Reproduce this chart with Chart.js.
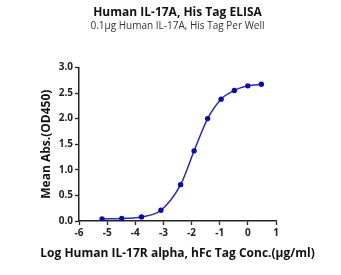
<!DOCTYPE html>
<html>
<head>
<meta charset="utf-8">
<script src="https://cdn.jsdelivr.net/npm/chart.js@4.4.0/dist/chart.umd.min.js"></script>
<style>
  html, body { margin: 0; padding: 0; background: #fff; }
  #wrap { width: 341px; height: 275px; }
</style>
</head>
<body>
<div id="wrap"><canvas id="elisa" width="341" height="275"></canvas></div>
<script>
// log10 conc (ug/ml) vs mean OD450
var logConc = [-5.18, -4.48, -3.78, -3.09, -2.39, -1.91, -1.43, -0.95, -0.48, 0.0, 0.48];
var od450 = [0.04, 0.05, 0.08, 0.21, 0.71, 1.37, 2.00, 2.38, 2.55, 2.64, 2.67];
var xTicks = [-6, -5, -4, -3, -2, -1, 0, 1];
var yTicks = [0.0, 0.5, 1.0, 1.5, 2.0, 2.5, 3.0];
var xTitle = "Log Human IL-17R alpha, hFc Tag Conc.(\u03bcg/ml)";

var pts = [];
for (var i = 0; i < logConc.length; i++) {
    pts.push({ x: logConc[i], y: od450[i] });
}

var fam = "Open Sans";
var axisCol = "#222";
var tickFont = { family: fam, size: 10, weight: "bold" };

// chart.js squeezes axis titles to the chart width, so draw this one ourselves
var xTitlePlugin = {
    id: 'xTitle',
    afterDraw: function (chart) {
        var c = chart.ctx, a = chart.chartArea;
        c.save();
        c.font = 'bold 12px "' + fam + '"';
        c.fillStyle = "#111";
        c.textAlign = "center";
        c.textBaseline = "middle";
        c.fillText(xTitle, (a.left + a.right) / 2, 254);
        c.restore();
    }
};

var ctx = document.getElementById("elisa");
var chart = new Chart(ctx, {
    type: 'scatter',
    data: {
        datasets: [{
            data: pts,
            showLine: true,
            borderColor: "#2a2ab8",
            borderWidth: 1.5,
            backgroundColor: "#0b0ba8",
            pointRadius: 2.7,
            pointBorderWidth: 0,
            cubicInterpolationMode: 'monotone',
            fill: false
        }]
    },
    plugins: [xTitlePlugin],
    options: {
        responsive: false,
        animation: false,
        layout: { padding: { left: 0, right: 65, top: 0, bottom: 0 } },
        plugins: {
            legend: { display: false },
            tooltip: { enabled: false },
            title: {
                display: true,
                fullSize: false,
                text: "Human IL-17A, His Tag ELISA",
                color: "#111",
                font: { family: fam, size: 12, weight: "bold" },
                padding: { top: 5, bottom: 1 }
            },
            subtitle: {
                display: true,
                fullSize: false,
                text: "0.1\u03bcg Human IL-17A, His Tag Per Well",
                color: "#333",
                font: { family: fam, size: 10 },
                padding: { top: 0, bottom: 35 }
            }
        },
        scales: {
            x: {
                type: 'linear',
                min: -6,
                max: 1,
                afterFit: function (s) { s.height = 54; },
                afterBuildTicks: function (s) {
                    s.ticks = xTicks.map(function (v) { return { value: v }; });
                },
                ticks: { color: axisCol, font: tickFont, padding: 2 },
                grid: { drawOnChartArea: false, drawTicks: true, tickLength: 4, color: axisCol, tickWidth: 1.3 },
                border: { color: axisCol, width: 1.5 },
                title: { display: false }
            },
            y: {
                min: 0,
                max: 3,
                afterFit: function (s) { s.width = 79; },
                afterBuildTicks: function (s) {
                    s.ticks = yTicks.map(function (v) { return { value: v }; });
                },
                ticks: {
                    color: axisCol,
                    font: tickFont,
                    padding: 2,
                    callback: function (v) { return Number(v).toFixed(1); }
                },
                grid: { drawOnChartArea: false, drawTicks: true, tickLength: 4, color: axisCol, tickWidth: 1.3 },
                border: { color: axisCol, width: 1.5 },
                title: {
                    display: true,
                    text: "Mean Abs.(OD450)",
                    color: "#111",
                    font: { family: fam, size: 12, weight: "bold" },
                    padding: { top: 39, bottom: 0 }
                }
            }
        }
    }
});
</script>
</body>
</html>
